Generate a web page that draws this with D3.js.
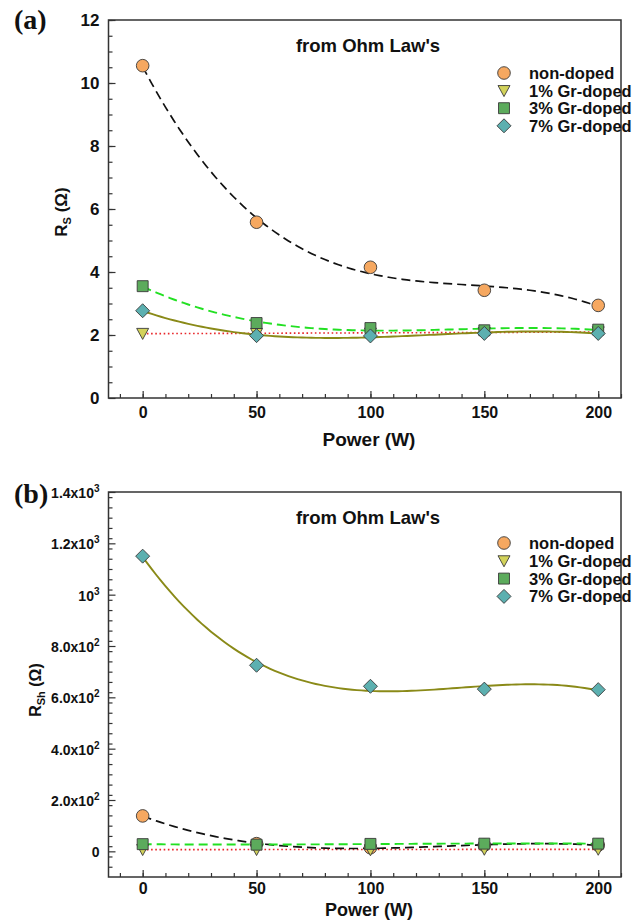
<!DOCTYPE html>
<html>
<head>
<meta charset="utf-8">
<script src="https://cdn.jsdelivr.net/npm/d3@7"></script>
<style>
  html, body { margin: 0; padding: 0; background: #fff; }
  svg { display: block; }
  text { font-family: "Liberation Sans", Arial, sans-serif; font-weight: bold; fill: #111; }
</style>
</head>
<body>
<svg id="chart" width="644" height="922"></svg>
<script>
// Sputtering power (W)
const power = [0, 50, 100, 150, 200];
const seriesNames = ["non-doped", "1% Gr-doped", "3% Gr-doped", "7% Gr-doped"];

// Series resistance R_S (Ohm)
const rsNonDoped = [10.55, 5.58, 4.15, 3.42, 2.94];
const rsGr1 = [2.05, 2.05, 2.06, 2.08, 2.10];
const rsGr3 = [3.55, 2.38, 2.22, 2.15, 2.17];
const rsGr7 = [2.77, 1.98, 1.97, 2.05, 2.05];

// Shunt resistance R_Sh (Ohm)
const rshNonDoped = [138, 30, 14, 24, 24];
const rshGr1 = [7, 7, 6, 8, 8];
const rshGr3 = [28, 26, 29, 30, 30];
const rshGr7 = [1150, 725, 643, 632, 630];

// Axis ticks
const xTicks = [0, 50, 100, 150, 200];
const rsTicks = [0, 2, 4, 6, 8, 10, 12];
const rshTicks = [0, 200, 400, 600, 800, 1000, 1200, 1400];
const rshTickLabels = [["0", ""], ["2.0x10", "2"], ["4.0x10", "2"], ["6.0x10", "2"], ["8.0x10", "2"], ["10", "3"], ["1.2x10", "3"], ["1.4x10", "3"]];

const markerStyle = [
  { shape: d3.symbolCircle, size: 125, fill: "#F6A860" },
  { shape: "triDown", size: 12, fill: "#D2D25A" },
  { shape: d3.symbolSquare, size: 120, fill: "#5CAB5C" },
  { shape: "diamond", size: 14, fill: "#5CB0B0" }
];
const lineStyle = [
  { stroke: "#111", width: 1.7, dash: "9,5", degree: 3 },
  { stroke: "#E8262A", width: 1.6, dash: "1.6,2.6", degree: 1 },
  { stroke: "#22E022", width: 1.9, dash: "9,5", degree: 3 },
  { stroke: "#8A8A18", width: 1.9, dash: null, degree: 3 }
];

// Least-squares polynomial fit, returns coefficient array (constant first)
function polyFit(xs, ys, deg) {
  const n = deg + 1;
  const A = Array.from({ length: n }, () => new Array(n + 1).fill(0));
  for (let i = 0; i < xs.length; i++) {
    const x = xs[i] / 100;
    for (let r = 0; r < n; r++) {
      for (let c = 0; c < n; c++) A[r][c] += Math.pow(x, r + c);
      A[r][n] += ys[i] * Math.pow(x, r);
    }
  }
  for (let p = 0; p < n; p++) {
    let max = p;
    for (let r = p + 1; r < n; r++) if (Math.abs(A[r][p]) > Math.abs(A[max][p])) max = r;
    [A[p], A[max]] = [A[max], A[p]];
    for (let r = 0; r < n; r++) {
      if (r === p) continue;
      const f = A[r][p] / A[p][p];
      for (let c = p; c <= n; c++) A[r][c] -= f * A[p][c];
    }
  }
  return A.map((row, i) => row[n] / row[i]);
}
function polyEval(coef, x) {
  const t = x / 100;
  return coef.reduce((s, c, i) => s + c * Math.pow(t, i), 0);
}

function markerPath(style) {
  if (style.shape === "triDown") {
    const s = style.size;
    return `M${-s / 2},${-s * 0.42}L${s / 2},${-s * 0.42}L0,${s * 0.5}Z`;
  }
  if (style.shape === "diamond") {
    const s = style.size / 2;
    return `M0,${-s}L${s},0L0,${s}L${-s},0Z`;
  }
  return d3.symbol().type(style.shape).size(style.size)();
}

const svg = d3.select("#chart");

function drawPanel(cfg) {
  const g = svg.append("g");
  const x = d3.scaleLinear().domain([-15, 210]).range([108.5, 621]);
  const y = d3.scaleLinear().domain(cfg.yDomain).range([cfg.bottom, cfg.top]);

  // inward ticks: minor every 10 W on x, cfg.yMinorStep on y
  const xMinor = d3.range(-10, 211, 10);
  const yMinor = d3.range(cfg.yDomain[0], cfg.yDomain[1] + 1e-9, cfg.yMinorStep).filter(v => v > cfg.yDomain[0] + 1e-9);

  const xAxis = d3.axisBottom(x).tickValues(xMinor).tickSize(-4).tickFormat("");
  g.append("g").attr("transform", `translate(0,${cfg.bottom})`).call(xAxis);
  const xMajor = d3.axisBottom(x).tickValues(xTicks).tickSize(-7).tickPadding(cfg.xLabelPad).tickFormat(d3.format("d"));
  const xm = g.append("g").attr("transform", `translate(0,${cfg.bottom})`).call(xMajor);
  xm.selectAll("text").style("font-size", "16px").style("font-family", "'Liberation Sans', Arial, sans-serif").style("font-weight", "bold").attr("fill", "#111");

  const yAxis = d3.axisLeft(y).tickValues(yMinor).tickSize(-4).tickFormat("");
  g.append("g").attr("transform", `translate(${x.range()[0]},0)`).call(yAxis);
  const yMajor = d3.axisLeft(y).tickValues(cfg.yTicks).tickSize(-7).tickPadding(9).tickFormat("");
  g.append("g").attr("transform", `translate(${x.range()[0]},0)`).call(yMajor);
  g.selectAll(".domain").remove();
  g.selectAll(".tick line").attr("stroke", "#333").attr("stroke-width", 1.2);

  // y tick labels
  cfg.yTicks.forEach((v, i) => {
    const t = g.append("text")
      .attr("x", x.range()[0] - 9)
      .attr("y", y(v) + 6)
      .attr("text-anchor", "end")
      .style("font-size", cfg.yLabelSize);
    const lab = cfg.yLabels[i];
    if (Array.isArray(lab)) {
      t.append("tspan").text(lab[0]);
      if (lab[1]) t.append("tspan").attr("dy", -6).style("font-size", "10px").text(lab[1]);
    } else {
      t.text(lab);
    }
  });

  // frame
  g.append("rect")
    .attr("x", x.range()[0]).attr("y", cfg.top)
    .attr("width", x.range()[1] - x.range()[0]).attr("height", cfg.bottom - cfg.top)
    .attr("fill", "none").attr("stroke", "#333").attr("stroke-width", 1.5);

  // fitted trend lines
  const clipId = "clip" + cfg.id;
  svg.append("clipPath").attr("id", clipId).append("rect")
    .attr("x", x.range()[0]).attr("y", cfg.top)
    .attr("width", x.range()[1] - x.range()[0]).attr("height", cfg.bottom - cfg.top);
  const xsFine = d3.range(0, 200.01, 2);
  [1, 0, 2, 3].forEach(i => {
    const coef = polyFit(power, cfg.series[i], lineStyle[i].degree);
    const pts = xsFine.map(p => [x(p), y(polyEval(coef, p))]);
    g.append("path")
      .attr("clip-path", `url(#${clipId})`)
      .attr("d", d3.line()(pts))
      .attr("fill", "none")
      .attr("stroke", lineStyle[i].stroke)
      .attr("stroke-width", lineStyle[i].width)
      .attr("stroke-dasharray", lineStyle[i].dash);
  });

  // markers
  [0, 1, 2, 3].forEach(i => {
    const ys = cfg.series[i];
    g.append("g").selectAll("path")
      .data(power.map((p, k) => [p, ys[k]]))
      .join("path")
      .attr("transform", d => `translate(${x(d[0])},${y(d[1])})`)
      .attr("d", markerPath(markerStyle[i]))
      .attr("fill", markerStyle[i].fill)
      .attr("stroke", "#3a3a3a")
      .attr("stroke-width", 0.9);
  });

  // title inside the frame
  g.append("text").attr("x", 368).attr("y", cfg.top + 32)
    .attr("text-anchor", "middle").style("font-size", "18.5px").text("from Ohm Law's");

  // legend
  seriesNames.forEach((name, i) => {
    const ly = cfg.legendTop + i * cfg.legendStep;
    g.append("path")
      .attr("transform", `translate(504,${ly})`)
      .attr("d", markerPath(markerStyle[i]))
      .attr("fill", markerStyle[i].fill)
      .attr("stroke", "#3a3a3a").attr("stroke-width", 0.9);
    g.append("text").attr("x", 529).attr("y", ly + 6).style("font-size", "16.5px").text(name);
  });

  // axis titles
  g.append("text").attr("x", 369).attr("y", cfg.bottom + cfg.xTitleOffset)
    .attr("text-anchor", "middle").style("font-size", cfg.xTitleSize).text("Power (W)");
  const yt = g.append("text")
    .attr("transform", `translate(${cfg.yTitleX},${cfg.yTitleY}) rotate(-90)`)
    .attr("text-anchor", "middle").style("font-size", cfg.yTitleSize);
  yt.append("tspan").text("R");
  yt.append("tspan").attr("dy", 4).style("font-size", "11px").text(cfg.ySub);
  yt.append("tspan").attr("dy", -4).text(" (Ω)");

  // panel letter
  svg.append("text").attr("x", 14).attr("y", cfg.letterY)
    .style("font-family", "'Liberation Serif', 'Times New Roman', serif")
    .style("font-size", "28px").text(cfg.letter);
}

drawPanel({
  id: "a", letter: "(a)", letterY: 29,
  top: 20, bottom: 398, yDomain: [0, 12], yMinorStep: 0.5,
  yTicks: rsTicks, yLabels: rsTicks.map(String), yLabelSize: "17px",
  series: [rsNonDoped, rsGr1, rsGr3, rsGr7],
  legendTop: 73, legendStep: 17.6, xLabelPad: 9, xTitleOffset: 48, xTitleSize: "19px",
  yTitleX: 67, yTitleY: 212, yTitleSize: "17px", ySub: "S"
});

drawPanel({
  id: "b", letter: "(b)", letterY: 503,
  top: 492, bottom: 877, yDomain: [-100, 1400], yMinorStep: 40,
  yTicks: rshTicks, yLabels: rshTickLabels, yLabelSize: "14px",
  series: [rshNonDoped, rshGr1, rshGr3, rshGr7],
  legendTop: 543, legendStep: 17.8, xLabelPad: 6, xTitleOffset: 39, xTitleSize: "18px",
  yTitleX: 41, yTitleY: 690, yTitleSize: "16px", ySub: "Sh"
});
</script>
</body>
</html>
